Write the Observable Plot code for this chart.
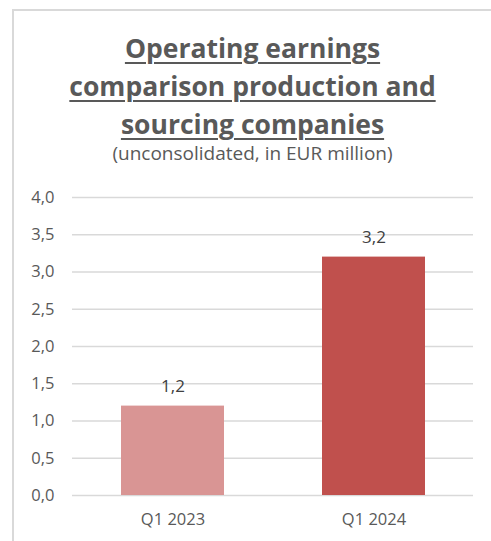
<!DOCTYPE html>
<html>
<head>
<meta charset="utf-8">
<script src="https://cdn.jsdelivr.net/npm/d3@7"></script>
<script src="https://cdn.jsdelivr.net/npm/@observablehq/plot@0.6"></script>
<style>
  html, body { margin: 0; padding: 0; background: #fff; }
  body { width: 491px; height: 541px; position: relative; overflow: hidden; font-family: "Open Sans", sans-serif; color: #595959; }
  #frame { position: absolute; left: 12px; top: 9px; width: 490px; height: 540px; border-left: 2px solid #d9d9d9; border-top: 2px solid #d9d9d9; }
  #title { position: absolute; left: 14px; width: 477px; top: 29px; text-align: center; font-weight: bold; font-size: 26.5px; line-height: 38px; text-decoration: underline; text-underline-offset: 4px; text-decoration-thickness: 2px; }
  #subtitle { position: absolute; left: 14px; width: 477px; top: 143px; text-align: center; font-size: 19px; line-height: 20px; }
  #chart { position: absolute; left: 0; top: 170px; }
</style>
</head>
<body>
<div id="frame"></div>
<div id="title">Operating earnings<br>comparison production and<br>sourcing companies</div>
<div id="subtitle">(unconsolidated, in EUR million)</div>
<div id="chart"></div>
<script>
const categories = ["Q1 2023", "Q1 2024"];
const values = [1.2, 3.2];
const colors = ["#D99594", "#C0504D"];
const yTicks = [0, 0.5, 1, 1.5, 2, 2.5, 3, 3.5, 4];

const data = categories.map((c, i) => ({category: c, value: values[i]}));
const fmt = v => v.toFixed(1).replace(".", ",");

const chart = Plot.plot({
  width: 491,
  height: 371,
  marginTop: 27,
  marginBottom: 46,
  marginLeft: 72,
  marginRight: 18,
  style: {fontFamily: "Open Sans, sans-serif", fontSize: "16.5px", color: "#595959", background: "transparent"},
  x: {domain: categories, paddingInner: 0.49, paddingOuter: 0.2425, label: null, tickSize: 0, tickPadding: 18},
  y: {domain: [0, 4], ticks: yTicks, tickFormat: fmt, label: null, tickSize: 0, tickPadding: 18},
  color: {domain: categories, range: colors},
  marks: [
    Plot.gridY(yTicks, {stroke: "#d9d9d9", strokeOpacity: 1, strokeWidth: 1.5}),
    Plot.barY(data, {x: "category", y: "value", fill: "category"}),
    Plot.text(data, {x: "category", y: "value", text: d => fmt(d.value), dy: -20, fontSize: 17, fill: "#404040"})
  ]
});
document.getElementById("chart").appendChild(chart);
</script>
</body>
</html>
